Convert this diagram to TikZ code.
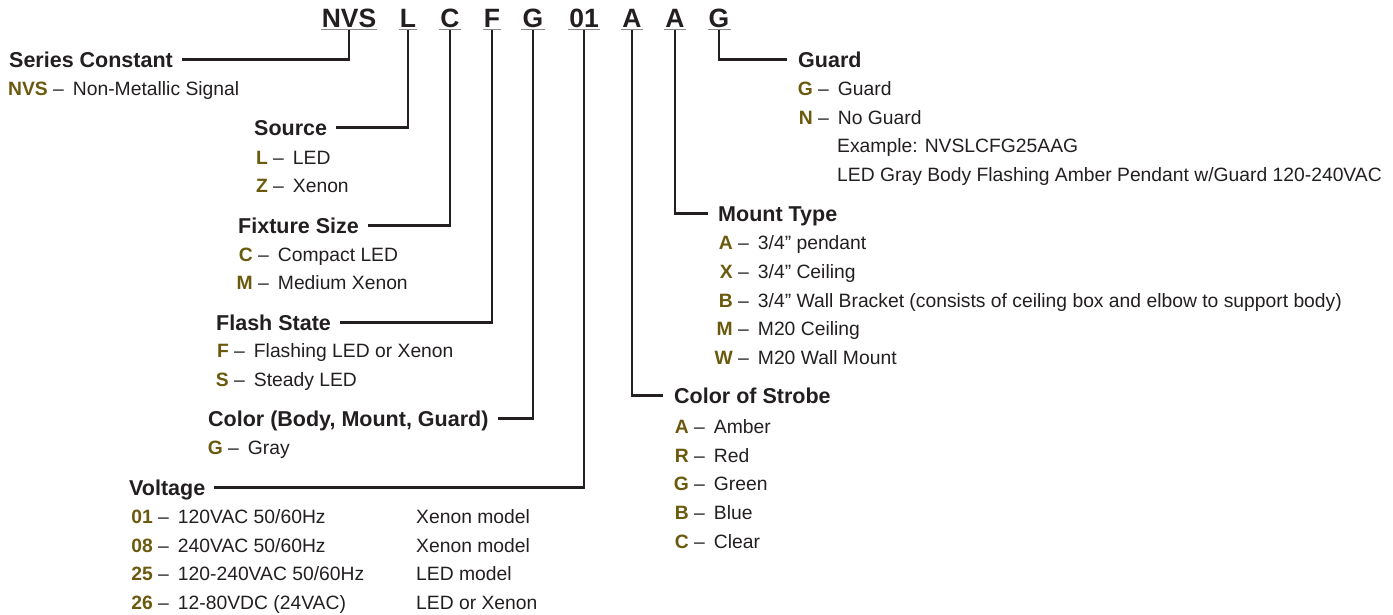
\documentclass[tikz,border=0pt]{standalone}
\usepackage{fontspec}
\setmainfont{Liberation Sans}
\definecolor{ink}{HTML}{231F20}
\definecolor{olive}{HTML}{6B5A0E}
\definecolor{ulgray}{HTML}{8A8A8A}
\newcommand{\optitem}[5]{%
  \node[codetxt,anchor=base east] (#1c) at (#2,#3) {#4};
  \node[bodytxt,anchor=base west] (#1t) at ([xshift=5pt]#1c.base east) {–\hspace{9pt}#5};}
\begin{document}
\begin{tikzpicture}[x=1pt,y=-1pt,
  bodytxt/.style={inner sep=0pt, text=ink, font=\fontsize{19.3}{22}\selectfont},
  codetxt/.style={inner sep=0pt, text=olive, font=\fontsize{19.3}{22}\selectfont\bfseries},
  hdr/.style={inner sep=0pt, anchor=base west, text=ink, font=\fontsize{21.5}{25}\selectfont\bfseries},
  ttl/.style={inner sep=0pt, inner xsep=1pt, anchor=base, text=ink, font=\fontsize{26.5}{30}\selectfont\bfseries},
  conn/.style={draw=ink, line width=2.2pt},
  uline/.style={draw=ulgray, line width=1.6pt}]
\useasboundingbox (0,0) rectangle (1393,614);

% title code
\node[ttl] (tNVS) at (349,27) {NVS};
\node[ttl] (tL) at (408,27) {L};
\node[ttl] (tC) at (450,27) {C};
\node[ttl] (tF) at (492,27) {F};
\node[ttl] (tG) at (533,27) {G};
\node[ttl] (tV) at (584,27) {01};
\node[ttl] (tS) at (632,27) {A};
\node[ttl] (tM) at (675,27) {A};
\node[ttl] (tGd) at (719,27) {G};
\foreach \n in {tNVS,tL,tC,tF,tG,tV,tS,tM,tGd}
  \draw[uline] ([yshift=-2.5pt]\n.base west) -- ([yshift=-2.5pt]\n.base east);

% headers
\node[hdr] (hS) at (9,67) {Series Constant};
\node[hdr] (hSrc) at (254,135) {Source};
\node[hdr] (hFx) at (238,233) {Fixture Size};
\node[hdr] (hFl) at (216,330) {Flash State};
\node[hdr] (hCo) at (208,426) {Color (Body, Mount, Guard)};
\node[hdr] (hV) at (129,495) {Voltage};
\node[hdr] (hGd) at (798,67) {Guard};
\node[hdr] (hMt) at (718,221) {Mount Type};
\node[hdr] (hSt) at (674,403) {Color of Strobe};

% connectors
\draw[conn] ([yshift=-2.5pt]tNVS.base) |- ([shift={(9,-7.5)}]hS.base east);
\draw[conn] ([yshift=-2.5pt]tL.base) |- ([shift={(9,-7.5)}]hSrc.base east);
\draw[conn] ([yshift=-2.5pt]tC.base) |- ([shift={(9,-7.5)}]hFx.base east);
\draw[conn] ([yshift=-2.5pt]tF.base) |- ([shift={(9,-7.5)}]hFl.base east);
\draw[conn] ([yshift=-2.5pt]tG.base) |- ([shift={(9,-7.5)}]hCo.base east);
\draw[conn] ([yshift=-2.5pt]tV.base) |- ([shift={(9,-7.5)}]hV.base east);
\draw[conn] ([yshift=-2.5pt]tS.base) |- ([shift={(-11,-7.5)}]hSt.base west);
\draw[conn] ([yshift=-2.5pt]tM.base) |- ([shift={(-10,-7.5)}]hMt.base west);
\draw[conn] ([yshift=-2.5pt]tGd.base) |- ([shift={(-11,-7.5)}]hGd.base west);

% options
\optitem{s1}{48}{95}{NVS}{Non-Metallic Signal}
\optitem{src1}{268}{164}{L}{LED}
\optitem{src2}{268}{192}{Z}{Xenon}
\optitem{fx1}{253}{261}{C}{Compact LED}
\optitem{fx2}{253}{289}{M}{Medium Xenon}
\optitem{fl1}{229}{357}{F}{Flashing LED or Xenon}
\optitem{fl2}{229}{386}{S}{Steady LED}
\optitem{co1}{223}{454}{G}{Gray}
\optitem{v1}{153}{523}{01}{120VAC 50/60Hz}
\optitem{v2}{153}{552}{08}{240VAC 50/60Hz}
\optitem{v3}{153}{580}{25}{120-240VAC 50/60Hz}
\optitem{v4}{153}{609}{26}{12-80VDC (24VAC)}
\node[bodytxt,anchor=base west] (v1m) at (416,523) {Xenon model};
\node[bodytxt,anchor=base west] (v2m) at (416,552) {Xenon model};
\node[bodytxt,anchor=base west] (v3m) at (416,580) {LED model};
\node[bodytxt,anchor=base west] (v4m) at (416,609) {LED or Xenon};
\optitem{g1}{813}{95}{G}{Guard}
\optitem{g2}{813}{124}{N}{No Guard}
\node[bodytxt,anchor=base west] (gex) at (837,152) {Example: NVSLCFG25AAG};
\node[bodytxt,anchor=base west] (gdesc) at (837,181) {LED Gray Body Flashing Amber Pendant w/Guard 120-240VAC};
\optitem{m1}{733}{249}{A}{3/4” pendant}
\optitem{m2}{733}{278}{X}{3/4” Ceiling}
\optitem{m3}{733}{307}{B}{3/4” Wall Bracket (consists of ceiling box and elbow to support body)}
\optitem{m4}{733}{335}{M}{M20 Ceiling}
\optitem{m5}{733}{364}{W}{M20 Wall Mount}
\optitem{c1}{689}{433}{A}{Amber}
\optitem{c2}{689}{462}{R}{Red}
\optitem{c3}{689}{490}{G}{Green}
\optitem{c4}{689}{519}{B}{Blue}
\optitem{c5}{689}{548}{C}{Clear}
\end{tikzpicture}
\end{document}
